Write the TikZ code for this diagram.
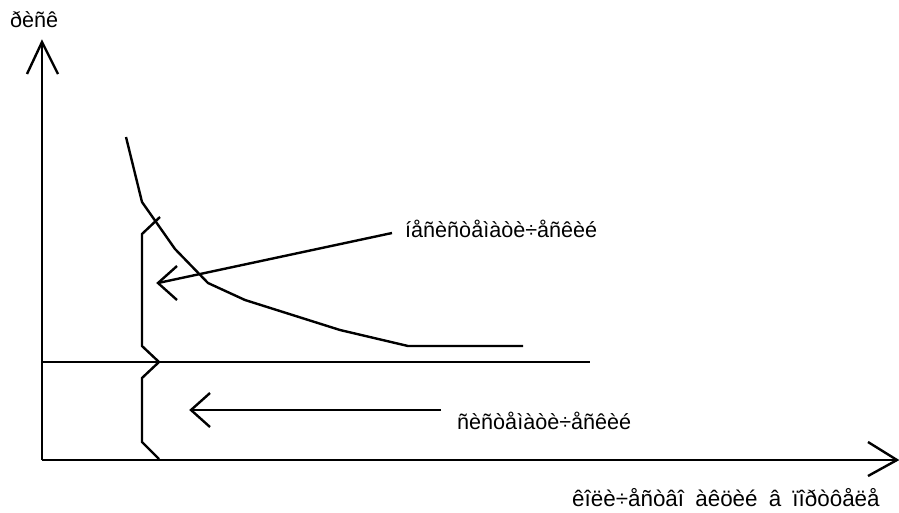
\documentclass[tikz,border=0pt]{standalone}
\usepackage{fontspec}
\setmainfont{Liberation Sans}
\newfontfamily\widespaced[WordSpace=1.8]{Liberation Sans}
\begin{document}
\begin{tikzpicture}[x=1pt,y=-1pt,
  ln/.style={line width=2.4pt,line cap=butt,line join=miter},
  lbl/.style={inner sep=0pt,anchor=west,font=\fontsize{21.6}{24}\selectfont}]
\useasboundingbox (0,0) rectangle (899,512);
% axes
\coordinate (O) at (42,460);
\coordinate (ytop) at (42,42);
\coordinate (xend) at (897,460);
\draw[ln] (O) -- (ytop);
\draw[ln] (27,74) -- (ytop) -- (58,74);
\draw[ln] (O) -- (xend);
\draw[ln] (868,442) -- (xend) -- (868,476);
% horizontal level line
\coordinate (h1) at (42,362);
\coordinate (h2) at (590,362);
\draw[ln] (h1) -- (h2);
% decreasing curve
\draw[ln] (126,137) -- (142,202) -- (175,249) -- (208,283) -- (245,300) -- (340,330) -- (408,346) -- (523,346);
% brace-like vertical line
\draw[ln] (160,217) -- (142,234) -- (142,346) -- (159,362) -- (142,378) -- (142,442) -- (159,459);
% labels
\node[lbl] (t1) at (10,20) {ðèñê};
\node[lbl] (t2) at (405,229) {íåñèñòåìàòè÷åñêèé};
\node[lbl] (t3) at (457,421) {ñèñòåìàòè÷åñêèé};
\node[lbl,font=\widespaced\fontsize{22.4}{24}\selectfont] (t4) at (572,498) {êîëè÷åñòâî àêöèé â ïîðòôåëå};
% arrows
\coordinate (a1s) at (392,233);
\coordinate (a1t) at (158,283);
\draw[ln] (a1s) -- (a1t);
\draw[ln] (177,266) -- (a1t) -- (177,300);
\coordinate (a2s) at (441,410);
\coordinate (a2t) at (191,410);
\draw[ln] (a2s) -- (a2t);
\draw[ln] (210,393) -- (a2t) -- (210,427);
\end{tikzpicture}
\end{document}
